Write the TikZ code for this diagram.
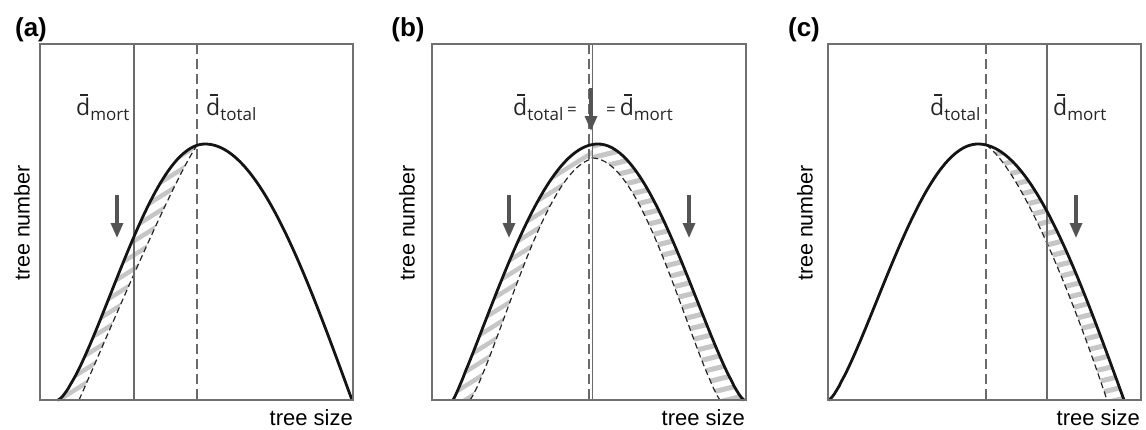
\documentclass[tikz,border=0pt]{standalone}
\usepackage{fontspec}
\setmainfont{Liberation Sans}
\newfontfamily\labfont{Open Sans}
\usetikzlibrary{arrows.meta}
\definecolor{boxgray}{HTML}{707070}
\definecolor{vgray}{HTML}{6A6A6A}
\definecolor{hatchgray}{HTML}{C6C6C6}
\definecolor{arrgray}{HTML}{545454}
\newcommand\dbar{\makebox[0pt][l]{\hspace{0.17em}\raisebox{0.83em}{\rule{0.36em}{0.065em}}}d}
\newcommand\dsub[1]{\dbar\raisebox{-0.22em}{\fontsize{17}{17}\selectfont #1}}
\begin{document}
\begin{tikzpicture}[x=1pt,y=-1pt,
  box/.style={draw=boxgray,line width=1.4pt},
  vsolid/.style={draw=vgray,line width=1.1pt},
  vdash/.style={draw=vgray,line width=1.1pt,dash pattern=on 10pt off 5pt},
  curve/.style={draw=black!92,line width=2.8pt,line join=round},
  dcurve/.style={draw=black!85,line width=1.2pt,dash pattern=on 6pt off 3.5pt},
  hatchline/.style={draw=hatchgray,line width=4.5pt},
  hatchlineb/.style={draw=hatchgray,line width=5pt},
  downarr/.style={draw=arrgray,line width=3.2pt,-{Triangle[length=15pt,width=12pt]}},
  panel/.style={font=\bfseries\fontsize{26}{26}\selectfont,inner sep=0},
  ylab/.style={font=\fontsize{21.5}{21.5}\selectfont,rotate=90,inner sep=0},
  xlab/.style={font=\fontsize{22}{22}\selectfont,inner sep=0,anchor=base east},
  dlab/.style={font=\labfont\fontsize{23}{23}\selectfont,inner sep=0,anchor=base west,text=black!85}
]
\useasboundingbox (0,0) rectangle (1146,429);

% ================= panel (a) =================
\begin{scope}
  \clip (58,400) -- plot[domain=58.2:197,samples=50] (\x,{400-256*pow(sin(90*(\x-58)/147),1.4)}) -- (197,400) -- cycle;
  \foreach \k in {0,...,34} \draw[hatchline] (30,{110+14*\k}) -- ++(240,-150);
  \fill[white] (79,400) .. controls (95,365) and (170,185) .. (197,145.3) -- (197,400) -- cycle;
\end{scope}
\draw[dcurve] (79,400) .. controls (95,365) and (170,185) .. (197,145.3);
\draw[vsolid] (134,44) -- (134,400);
\draw[vdash] (197,44) -- (197,400);
\coordinate (aT) at (117,195); \coordinate (aH) at (117,238);
\draw[downarr] (aT) -- (aH);
\draw[curve] (58,400) -- plot[domain=58.2:205,samples=60] (\x,{400-256*pow(sin(90*(\x-58)/147),1.4)})
  -- plot[domain=205:351.8,samples=60] (\x,{400-256*sin(90*(352-\x)/147)}) -- (352,400);
\draw[box] (40,44) rectangle (353,400);
\node[panel] (pa) at (31,30) {(a)};
\node[ylab] (ya) at (22,223) {tree number};
\node[xlab] (xa) at (353,425) {tree size};
\node[dlab] (ma) at (76,115) {\dsub{mort}};
\node[dlab] (ta) at (206,115) {\dsub{total}};

% ================= panel (b) =================
\begin{scope}
  \clip (453,400) -- plot[domain=453.2:598,samples=50] (\x,{400-256*pow(sin(90*(\x-453)/145),1.1)})
    -- plot[domain=598:743.8,samples=50] (\x,{400-256*pow(sin(90*(744-\x)/146),1.3)}) -- (744,400) -- cycle;
  \begin{scope}
    \clip (430,40) rectangle (592,405);
    \foreach \k in {0,...,36} \draw[hatchline] (430,{100+14*\k}) -- ++(200,-125);
  \end{scope}
  \begin{scope}
    \clip (592,40) rectangle (750,405);
    \foreach \k in {0,...,32} \draw[hatchlineb] (585,{125+11.5*\k}) -- ++(180,-45);
  \end{scope}
  \fill[white] (470,400) -- plot[domain=470.2:592,samples=50] (\x,{400-242*pow(sin(90*(\x-470)/128),1.2)})
    -- plot[domain=592:719.8,samples=50] (\x,{400-242*pow(sin(90*(720-\x)/128),1.2)}) -- (720,400) -- cycle;
\end{scope}
\draw[dcurve] (470,400) -- plot[domain=470.2:592,samples=50] (\x,{400-242*pow(sin(90*(\x-470)/128),1.2)})
    -- plot[domain=592:719.8,samples=50] (\x,{400-242*pow(sin(90*(720-\x)/128),1.2)}) -- (720,400);
\draw[vdash] (589,44) -- (589,400);
\draw[vsolid] (592.5,44) -- (592.5,400);
\coordinate (bLT) at (509,195); \coordinate (bLH) at (509,238);
\coordinate (bRT) at (689,195); \coordinate (bRH) at (689,238);
\coordinate (bTT) at (591,88);  \coordinate (bTH) at (591,131);
\draw[downarr] (bLT) -- (bLH);
\draw[downarr] (bRT) -- (bRH);
\draw[downarr] (bTT) -- (bTH);
\draw[curve] (453,400) -- plot[domain=453.2:598,samples=60] (\x,{400-256*pow(sin(90*(\x-453)/145),1.1)})
  -- plot[domain=598:743.8,samples=60] (\x,{400-256*pow(sin(90*(744-\x)/146),1.3)}) -- (744,400);
\draw[box] (432,44) rectangle (746,400);
\node[panel] (pb) at (408,30) {(b)};
\node[ylab] (yb) at (407,223) {tree number};
\node[xlab] (xb) at (745,425) {tree size};
\node[dlab] (tb) at (513,115) {\dsub{total}\,{\fontsize{17}{17}\selectfont=}};
\node[dlab] (mb) at (606,115) {{\fontsize{17}{17}\selectfont=}\,\dsub{mort}};

% ================= panel (c) =================
\begin{scope}
  \clip (986,400) -- plot[domain=986:1123.8,samples=50] (\x,{400-256*sin(90*(1124-\x)/146)}) -- (1124,400) -- cycle;
  \foreach \k in {0,...,30} \draw[hatchlineb] (975,{125+11.5*\k}) -- ++(180,-45);
  \fill[white] (986,144.9) .. controls (1015,165) and (1060,260) .. (1107,400) -- (986,400) -- cycle;
\end{scope}
\draw[dcurve] (986,144.9) .. controls (1015,165) and (1060,260) .. (1107,400);
\draw[vdash] (986,44) -- (986,400);
\draw[vsolid] (1047,44) -- (1047,400);
\coordinate (cT) at (1076,195); \coordinate (cH) at (1076,238);
\draw[downarr] (cT) -- (cH);
\draw[curve] (829,400) -- plot[domain=829.2:978,samples=60] (\x,{400-256*pow(sin(90*(\x-829)/149),1.3)})
  -- plot[domain=978:1123.8,samples=60] (\x,{400-256*sin(90*(1124-\x)/146)}) -- (1124,400);
\draw[box] (828,44) rectangle (1141,400);
\node[panel] (pc) at (804,30) {(c)};
\node[ylab] (yc) at (805,223) {tree number};
\node[xlab] (xc) at (1140,425) {tree size};
\node[dlab] (tc) at (930,115) {\dsub{total}};
\node[dlab] (mc) at (1053,115) {\dsub{mort}};
\end{tikzpicture}
\end{document}
